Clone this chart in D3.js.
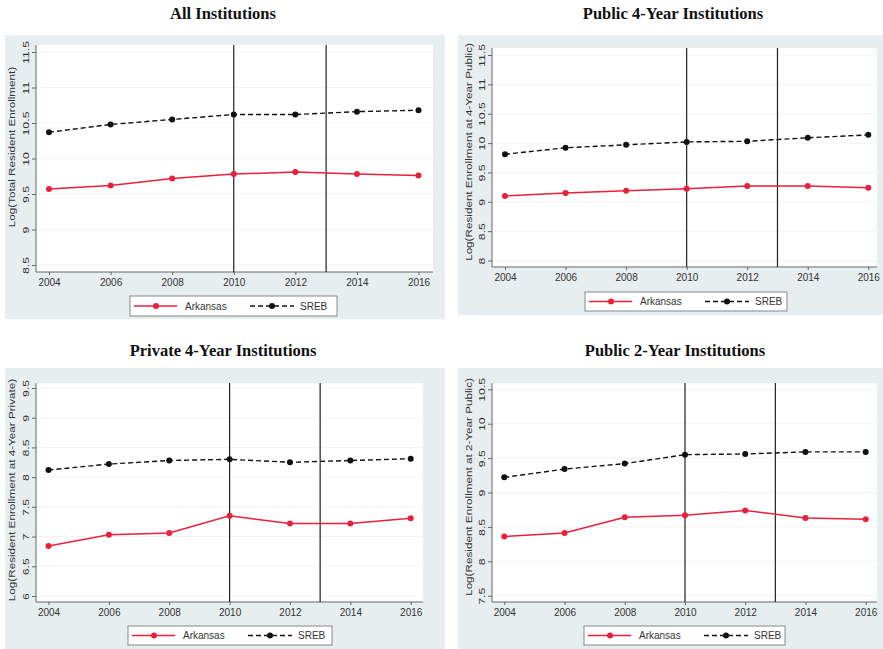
<!DOCTYPE html>
<html>
<head>
<meta charset="utf-8">
<script src="https://cdn.jsdelivr.net/npm/d3@7"></script>
<style>
  html, body { margin: 0; padding: 0; background: #ffffff; }
  svg { display: block; }
</style>
</head>
<body>
<svg id="chart" width="883" height="649"></svg>
<script>
// ---------------- DATA ----------------
const years = [2004, 2006, 2008, 2010, 2012, 2014, 2016];
const xTickLabels = ["2004", "2006", "2008", "2010", "2012", "2014", "2016"];
const policyYears = [2010, 2013];
const seriesNames = ["Arkansas", "SREB"];

const panelTitles = ["All Institutions", "Public 4-Year Institutions", "Private 4-Year Institutions", "Public 2-Year Institutions"];
const yAxisTitles = [
  "Log(Total Resident Enrollment)",
  "Log(Resident Enrollment at 4-Year Public)",
  "Log(Resident Enrollment at 4-Year Private)",
  "Log(Resident Enrollment at 2-Year Public)"
];

const allArkansas  = [9.57, 9.62, 9.72, 9.78, 9.81, 9.78, 9.76];
const allSREB      = [10.37, 10.48, 10.55, 10.62, 10.62, 10.66, 10.68];
const pub4Arkansas = [9.10, 9.15, 9.19, 9.22, 9.27, 9.27, 9.24];
const pub4SREB     = [9.81, 9.92, 9.97, 10.02, 10.03, 10.09, 10.14];
const priv4Arkansas= [6.84, 7.03, 7.06, 7.35, 7.22, 7.22, 7.31];
const priv4SREB    = [8.12, 8.22, 8.28, 8.30, 8.25, 8.28, 8.31];
const pub2Arkansas = [8.36, 8.41, 8.64, 8.67, 8.74, 8.63, 8.61];
const pub2SREB     = [9.22, 9.34, 9.42, 9.55, 9.56, 9.59, 9.59];

const yTicksAll   = [8.5, 9, 9.5, 10, 10.5, 11, 11.5];
const yTicksPub4  = [8, 8.5, 9, 9.5, 10, 10.5, 11, 11.5];
const yTicksPriv4 = [6, 6.5, 7, 7.5, 8, 8.5, 9, 9.5];
const yTicksPub2  = [7.5, 8, 8.5, 9, 9.5, 10, 10.5];

// ---------------- LAYOUT ----------------
const panels = [
  { title: panelTitles[0], ytitle: yAxisTitles[0], ark: allArkansas, sreb: allSREB, yticks: yTicksAll,
    bg: [5, 35, 440, 284], plot: { l: 36, r: 433, t: 45, b: 272 }, xr: [49, 418.5], yr: [265, 52],
    titleX: 223, titleY: 19, ytX: 15, ytY: 147, legend: [130, 296, 207, 20] },
  { title: panelTitles[1], ytitle: yAxisTitles[1], ark: pub4Arkansas, sreb: pub4SREB, yticks: yTicksPub4,
    bg: [458, 35, 425, 280], plot: { l: 492, r: 877, t: 48, b: 267 }, xr: [505, 868.3], yr: [260.5, 55],
    titleX: 673, titleY: 19, ytX: 472, ytY: 152, legend: [585, 292, 202, 19] },
  { title: panelTitles[2], ytitle: yAxisTitles[2], ark: priv4Arkansas, sreb: priv4SREB, yticks: yTicksPriv4,
    bg: [5, 368, 440, 281], plot: { l: 36, r: 423, t: 383, b: 602 }, xr: [48.5, 410.7], yr: [596, 388],
    titleX: 223, titleY: 356, ytX: 15, ytY: 490, legend: [128, 626, 204, 19] },
  { title: panelTitles[3], ytitle: yAxisTitles[3], ark: pub2Arkansas, sreb: pub2SREB, yticks: yTicksPub2,
    bg: [458, 368, 425, 281], plot: { l: 492, r: 877, t: 383, b: 602 }, xr: [504.3, 865.7], yr: [595.7, 389.3],
    titleX: 675, titleY: 356, ytX: 472, ytY: 487, legend: [584, 626, 201, 19] }
];

const red = "#e8203c";
const bgColor = "#e6eef0";
const stretch = 1.3; // rotated text is stretched along its length in the reference
const svg = d3.select("#chart");

panels.forEach(p => {
  const g = svg.append("g");
  g.append("rect").attr("x", p.bg[0]).attr("y", p.bg[1]).attr("width", p.bg[2]).attr("height", p.bg[3])
    .attr("fill", bgColor);
  g.append("rect").attr("x", p.plot.l).attr("y", p.plot.t)
    .attr("width", p.plot.r - p.plot.l).attr("height", p.plot.b - p.plot.t).attr("fill", "#ffffff");

  svg.append("text").attr("x", p.titleX).attr("y", p.titleY).attr("text-anchor", "middle")
    .attr("font-family", "Liberation Serif, Times New Roman, serif").attr("font-weight", "bold")
    .attr("font-size", 16.5).attr("fill", "#111").text(p.title);

  const x = d3.scaleLinear().domain([years[0], years[years.length - 1]]).range(p.xr);
  const y = d3.scaleLinear().domain([p.yticks[0], p.yticks[p.yticks.length - 1]]).range(p.yr);

  g.selectAll(".grid").data(p.yticks).enter().append("line")
    .attr("x1", p.plot.l + 1).attr("x2", p.plot.r)
    .attr("y1", d => y(d)).attr("y2", d => y(d))
    .attr("stroke", "#f1f4f5").attr("stroke-width", 1);

  const yAxis = d3.axisLeft(y).tickValues(p.yticks).tickSize(4).tickPadding(3)
    .tickFormat(d => String(d));
  const yg = g.append("g").attr("transform", `translate(${p.plot.l},0)`).call(yAxis);
  yg.select(".domain").attr("d", `M0,${p.plot.t}V${p.plot.b}`).attr("stroke", "#666");
  yg.selectAll(".tick line").attr("stroke", "#666");
  yg.selectAll(".tick text")
    .attr("font-family", "Liberation Sans, Arial, sans-serif").attr("font-size", 9.5).attr("fill", "#333")
    .attr("x", null).attr("dy", null)
    .attr("text-anchor", "middle")
    .attr("transform", `translate(-7,0) rotate(-90) scale(${stretch},1)`);

  const xAxis = d3.axisBottom(x).tickValues(years).tickSize(3).tickPadding(4)
    .tickFormat((d, i) => xTickLabels[i]);
  const xg = g.append("g").attr("transform", `translate(0,${p.plot.b})`).call(xAxis);
  xg.select(".domain").attr("d", `M${p.plot.l},0H${p.plot.r}`).attr("stroke", "#666");
  xg.selectAll(".tick line").attr("stroke", "#666");
  xg.selectAll(".tick text")
    .attr("font-family", "Liberation Sans, Arial, sans-serif").attr("font-size", 10).attr("fill", "#333");

  g.append("text").attr("transform", `translate(${p.ytX},${p.ytY}) rotate(-90) scale(${stretch},1)`)
    .attr("text-anchor", "middle").attr("font-family", "Liberation Sans, Arial, sans-serif")
    .attr("font-size", 9).attr("fill", "#333").text(p.ytitle);

  g.selectAll(".vline").data(policyYears).enter().append("line")
    .attr("x1", d => x(d)).attr("x2", d => x(d))
    .attr("y1", p.plot.t).attr("y2", p.plot.b)
    .attr("stroke", "#222").attr("stroke-width", 1.2);

  const line = d3.line().x((d, i) => x(years[i])).y(d => y(d));

  g.append("path").datum(p.sreb).attr("d", line).attr("fill", "none")
    .attr("stroke", "#111").attr("stroke-width", 1.4).attr("stroke-dasharray", "5,3");
  g.selectAll(".sp").data(p.sreb).enter().append("circle")
    .attr("cx", (d, i) => x(years[i])).attr("cy", d => y(d)).attr("r", 3).attr("fill", "#111");

  g.append("path").datum(p.ark).attr("d", line).attr("fill", "none")
    .attr("stroke", red).attr("stroke-width", 1.5);
  g.selectAll(".ap").data(p.ark).enter().append("circle")
    .attr("cx", (d, i) => x(years[i])).attr("cy", d => y(d)).attr("r", 3).attr("fill", red);

  const [lx, ly, lw, lh] = p.legend;
  const lg = g.append("g").attr("transform", `translate(${lx},${ly})`);
  lg.append("rect").attr("width", lw).attr("height", lh).attr("fill", "#fff").attr("stroke", "#888").attr("stroke-width", 1);
  const my = lh / 2;
  lg.append("line").attr("x1", 4).attr("x2", 47).attr("y1", my).attr("y2", my).attr("stroke", red).attr("stroke-width", 1.5);
  lg.append("circle").attr("cx", 26).attr("cy", my).attr("r", 3).attr("fill", red);
  lg.append("text").attr("x", 55).attr("y", my + 3.5).attr("font-family", "Liberation Sans, Arial, sans-serif")
    .attr("font-size", 10).attr("fill", "#333").text(seriesNames[0]);
  lg.append("line").attr("x1", 120).attr("x2", 164).attr("y1", my).attr("y2", my).attr("stroke", "#111")
    .attr("stroke-width", 1.4).attr("stroke-dasharray", "5,3");
  lg.append("circle").attr("cx", 142).attr("cy", my).attr("r", 3).attr("fill", "#111");
  lg.append("text").attr("x", 170).attr("y", my + 3.5).attr("font-family", "Liberation Sans, Arial, sans-serif")
    .attr("font-size", 10).attr("fill", "#333").text(seriesNames[1]);
});
</script>
</body>
</html>
